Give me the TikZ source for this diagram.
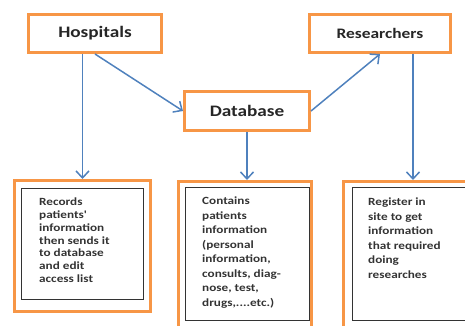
\documentclass[tikz,border=0pt]{standalone}
\usepackage{fontspec}
\setmainfont{Carlito}
\newfontfamily\boxfont[FakeStretch=1.2]{Carlito}
\usetikzlibrary{arrows.meta}
\definecolor{boxorange}{HTML}{F79646}
\definecolor{arrowblue}{HTML}{4F81BD}

\begin{document}
\begin{tikzpicture}[x=1pt,y=-1pt,
    titlebox/.style={draw=boxorange, line width=3pt, fill=white, text=black!85},
    outerbox/.style={draw=boxorange, line width=3pt},
    innerbox/.style={draw=black!80, line width=1pt},
    info/.style={anchor=north west, inner sep=0pt, align=left, text=black!80},
    link/.style={draw=arrowblue, line width=1.5pt, -{Straight Barb[length=7pt,width=13pt]}}]
        \useasboundingbox (0,0) rectangle (465,325);
        \clip (0,0) rectangle (465,325);

        \node[titlebox, minimum width=133pt, minimum height=38pt,
              font=\boxfont\bfseries\fontsize{16}{19}\selectfont] (hosp) at (95,33.5) {Hospitals};
        \node[titlebox, minimum width=141pt, minimum height=38pt,
              font=\boxfont\bfseries\fontsize{14.5}{17}\selectfont] (res) at (380,33.5) {Researchers};
        \node[titlebox, minimum width=125pt, minimum height=39pt,
              font=\boxfont\bfseries\fontsize{16}{19}\selectfont] (db) at (247,111) {Database};

        \node[outerbox, minimum width=136pt, minimum height=131pt] (recout) at (82.5,246) {};
        \node[innerbox, minimum width=122pt, minimum height=111pt] (recin) at (82.5,244) {};
        \node[outerbox, minimum width=133pt, minimum height=152pt] (contout) at (245,257.5) {};
        \node[innerbox, minimum width=124pt, minimum height=133pt] (contin) at (247.5,254) {};
        \node[outerbox, minimum width=135pt, minimum height=152pt] (regout) at (411,257.5) {};
        \node[innerbox, minimum width=122pt, minimum height=133pt] (regin) at (413.5,254) {};

        \node[info, font=\boxfont\bfseries\fontsize{11}{12.7}\selectfont] (rectxt) at (39,198)
            {Records\\patients'\\information\\then sends it\\to database\\and edit\\access list};
        \node[info, font=\boxfont\bfseries\fontsize{11}{14.5}\selectfont] (conttxt) at (202,197)
            {Contains\\patients\\information\\(personal\\information,\\consults, diag-\\nose, test,\\drugs,....etc.)};
        \node[info, font=\boxfont\bfseries\fontsize{11}{14.5}\selectfont] (regtxt) at (368,198)
            {Register in\\site to get\\information\\that required\\doing\\researches};

        \coordinate (resfoot) at ([xshift=33pt]res.south);

        \draw[link] (hosp.south) -- (db.west);
        \draw[link] (db.east) -- (res.south);
        \draw[link] (hosp.south -| recout.north) -- (recout.north);
        \draw[link] (db.south) -- (db.south |- contout.north);
        \draw[link] (resfoot) -- (resfoot |- regout.north);
    \end{tikzpicture}
\end{document}
